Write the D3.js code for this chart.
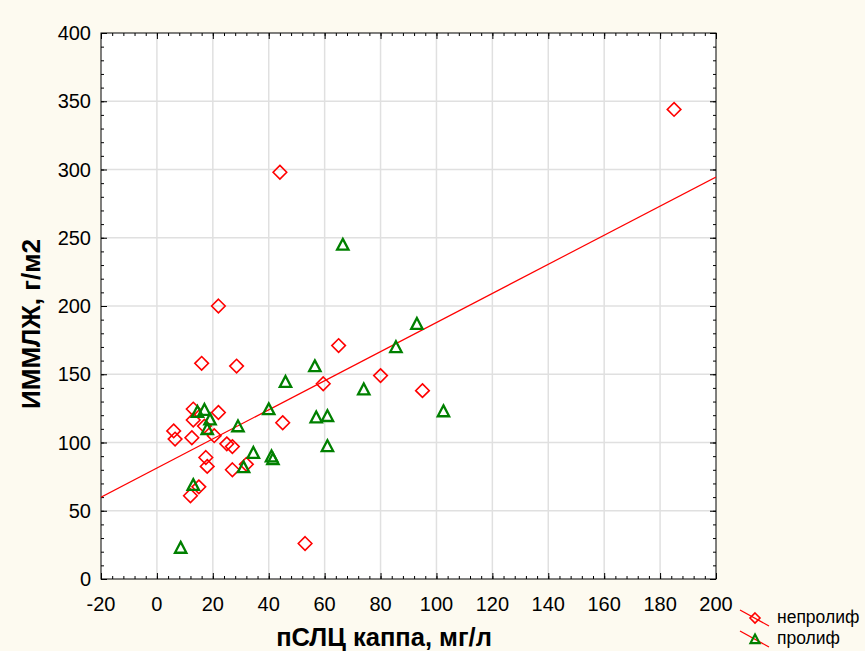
<!DOCTYPE html>
<html>
<head>
<meta charset="utf-8">
<script src="https://cdn.jsdelivr.net/npm/d3@7"></script>
<style>
  body { margin: 0; background: #fdfaf0; }
  svg { display: block; font-family: "Liberation Sans", Arial, sans-serif; }
</style>
</head>
<body>
<svg id="chart"></svg>
<script>
// непролиф (diamonds) and пролиф (triangles), [пСЛЦ каппа, ИММЛЖ]
const nonProlif = [
  [185, 344], [44, 298], [22, 200], [16, 158], [28.5, 156], [65, 171],
  [59.5, 143], [80, 149], [95, 138], [45, 114.5], [53, 26], [6, 108.5],
  [6.5, 102.5], [12.5, 103.5], [13, 124.5], [13, 116.5], [22, 122], [17, 112],
  [20.5, 105], [25, 99], [27, 97], [17.5, 89], [18, 82.5], [27, 80],
  [15, 67.5], [12, 61], [32, 84]
];
const prolif = [
  [66.5, 245], [93, 187], [85.5, 170], [56.5, 156], [74, 139], [46, 144.5],
  [57, 118.5], [61, 119.5], [102.5, 123], [40, 124.5], [29, 112], [61, 97.5],
  [34.5, 92.5], [41, 90], [41.5, 88], [31, 82], [14.5, 122.5], [17, 124],
  [19, 117], [18, 110], [13, 69], [8.5, 23]
];
// regression line
const regIntercept = 81.3;
const regSlope = 1.066;

const xTicks = [-20, 0, 20, 40, 60, 80, 100, 120, 140, 160, 180, 200];
const yTicks = [0, 50, 100, 150, 200, 250, 300, 350, 400];
const legendLabels = ['непролиф', 'пролиф'];

const WIDTH = 865, HEIGHT = 651;
const plot = { left: 101, right: 716, top: 33, bottom: 579 };

const svg = d3.select('#chart')
    .attr('width', WIDTH)
    .attr('height', HEIGHT);

const xScale = d3.scaleLinear().domain([-20, 200]).range([plot.left, plot.right]);
const yScale = d3.scaleLinear().domain([0, 400]).range([plot.bottom, plot.top]);

// white plot area
svg.append('rect')
    .attr('x', plot.left).attr('y', plot.top)
    .attr('width', plot.right - plot.left).attr('height', plot.bottom - plot.top)
    .attr('fill', '#fff');

// grid
const grid = svg.append('g').attr('stroke', '#e0e0e0').attr('stroke-width', 1.5);
grid.selectAll('.gx').data(xTicks.slice(1, -1)).enter().append('line')
    .attr('x1', d => xScale(d)).attr('x2', d => xScale(d))
    .attr('y1', plot.top).attr('y2', plot.bottom);
grid.selectAll('.gy').data(yTicks.slice(1, -1)).enter().append('line')
    .attr('y1', d => yScale(d)).attr('y2', d => yScale(d))
    .attr('x1', plot.left).attr('x2', plot.right);

// axes (ticks inside, mirrored on all sides)
const minorX = d3.range(-20, 200.1, 4);
const minorY = d3.range(0, 400.1, 10);

function tickAxis(axisFn, scale, major, minor, transform) {
    const g = svg.append('g').attr('transform', transform);
    g.call(axisFn(scale).tickValues(minor).tickSize(-3).tickFormat(''));
    const g2 = svg.append('g').attr('transform', transform);
    g2.call(axisFn(scale).tickValues(major).tickSize(-6).tickFormat(''));
    [g, g2].forEach(s => {
        s.select('.domain').remove();
        s.selectAll('line').attr('stroke', '#000');
    });
}
tickAxis(d3.axisBottom, xScale, xTicks, minorX, `translate(0,${plot.bottom})`);
tickAxis(d3.axisTop, xScale, xTicks, minorX, `translate(0,${plot.top})`);
tickAxis(d3.axisLeft, yScale, yTicks, minorY, `translate(${plot.left},0)`);
tickAxis(d3.axisRight, yScale, yTicks, minorY, `translate(${plot.right},0)`);

// tick labels
svg.append('g').selectAll('text').data(xTicks).enter().append('text')
    .attr('x', d => xScale(d)).attr('y', plot.bottom + 32)
    .attr('text-anchor', 'middle').attr('font-size', 20)
    .text(d => d);
svg.append('g').selectAll('text').data(yTicks).enter().append('text')
    .attr('x', plot.left - 10).attr('y', d => yScale(d) + 7)
    .attr('text-anchor', 'end').attr('font-size', 20)
    .text(d => d);

// frame
svg.append('rect')
    .attr('x', plot.left).attr('y', plot.top)
    .attr('width', plot.right - plot.left).attr('height', plot.bottom - plot.top)
    .attr('fill', 'none').attr('stroke', '#000').attr('stroke-width', 1);

// regression line
svg.append('clipPath').attr('id', 'clip').append('rect')
    .attr('x', plot.left).attr('y', plot.top)
    .attr('width', plot.right - plot.left).attr('height', plot.bottom - plot.top);
svg.append('line')
    .attr('clip-path', 'url(#clip)')
    .attr('x1', xScale(-20)).attr('y1', yScale(regIntercept + regSlope * -20))
    .attr('x2', xScale(200)).attr('y2', yScale(regIntercept + regSlope * 200))
    .attr('stroke', '#ff0000').attr('stroke-width', 1.2);

// markers
const diamond = s => `M0,${-s}L${s},0L0,${s}L${-s},0Z`;
const triangle = s => `M0,${-s}L${s},${s * 0.9}L${-s},${s * 0.9}Z`;

svg.append('g').selectAll('path').data(nonProlif).enter().append('path')
    .attr('d', diamond(6.8))
    .attr('transform', d => `translate(${xScale(d[0])},${yScale(d[1])})`)
    .attr('fill', 'none').attr('stroke', '#ff0000').attr('stroke-width', 1.6);

svg.append('g').selectAll('path').data(prolif).enter().append('path')
    .attr('d', triangle(5.7))
    .attr('transform', d => `translate(${xScale(d[0])},${yScale(d[1])})`)
    .attr('fill', 'none').attr('stroke', '#008000').attr('stroke-width', 2.3);

// axis titles
svg.append('text')
    .attr('transform', 'translate(40,324) rotate(-90)')
    .attr('text-anchor', 'middle').attr('font-size', 26).attr('font-weight', 'bold')
    .text('ИММЛЖ, г/м2');
svg.append('text')
    .attr('x', 384).attr('y', 646)
    .attr('text-anchor', 'middle').attr('font-size', 25.5).attr('font-weight', 'bold')
    .text('пСЛЦ каппа, мг/л');

// legend
const legend = svg.append('g');
legendLabels.forEach((label, i) => {
    const y0 = 618 + i * 21;
    legend.append('line')
        .attr('x1', 740).attr('y1', y0 - 8).attr('x2', 769).attr('y2', y0 + 8)
        .attr('stroke', '#ff0000').attr('stroke-width', 1.2);
    legend.append('path')
        .attr('d', i === 0 ? diamond(5) : triangle(4.5))
        .attr('transform', `translate(755,${y0})`)
        .attr('fill', 'none')
        .attr('stroke', i === 0 ? '#ff0000' : '#008000')
        .attr('stroke-width', i === 0 ? 1.6 : 2.2);
    legend.append('text')
        .attr('x', 777).attr('y', y0 + 5)
        .attr('font-size', 17.5)
        .text(label);
});
</script>
</body>
</html>
